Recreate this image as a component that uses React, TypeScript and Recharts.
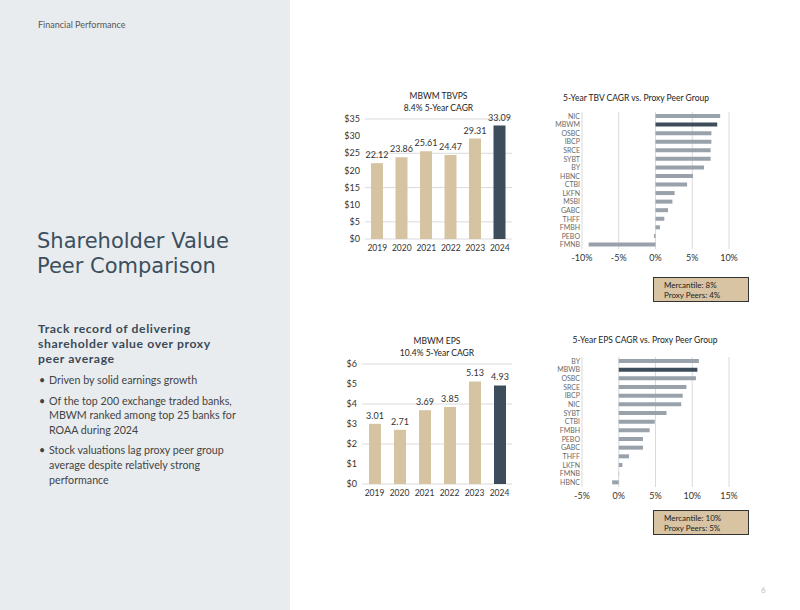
import React from "react";
import {
  BarChart,
  Bar,
  XAxis,
  YAxis,
  CartesianGrid,
  Cell,
  LabelList,
} from "recharts";

const YEARS = ["2019", "2020", "2021", "2022", "2023", "2024"];
const TBVPS = [22.12, 23.86, 25.61, 24.47, 29.31, 33.09];
const EPS = [3.01, 2.71, 3.69, 3.85, 5.13, 4.93];
const TBVPS_TICKS = [0, 5, 10, 15, 20, 25, 30, 35];
const EPS_TICKS = [0, 1, 2, 3, 4, 5, 6];

const TBV_PEERS = ["NIC", "MBWM", "OSBC", "IBCP", "SRCE", "SYBT", "BY", "HBNC", "CTBI", "LKFN", "MSBI", "GABC", "THFF", "FMBH", "PEBO", "FMNB"];
const TBV_CAGR = [8.8, 8.4, 7.6, 7.6, 7.5, 7.5, 6.6, 5.1, 4.3, 2.6, 2.3, 1.7, 1.2, 0.6, -0.2, -9.1];
const TBV_TICKS = [-10, -5, 0, 5, 10];

const EPS_PEERS = ["BY", "MBWB", "OSBC", "SRCE", "IBCP", "NIC", "SYBT", "CTBI", "FMBH", "PEBO", "GABC", "THFF", "LKFN", "FMNB", "HBNC"];
const EPS_CAGR = [10.9, 10.7, 10.5, 9.2, 8.7, 8.5, 6.5, 4.9, 4.2, 3.3, 3.3, 1.4, 0.5, 0.05, -0.9];
const EPS_TICKS_PCT = [-5, 0, 5, 10, 15];

const BULLETS = [
  "Driven by solid earnings growth",
  "Of the top 200 exchange traded banks, MBWM ranked among top 25 banks for ROAA during 2024",
  "Stock valuations lag proxy peer group average despite relatively strong performance",
];

const HIGHLIGHT = ["MBWM", "MBWB"];

const TAN = "#D6C3A2";
const SLATE = "#3E4D5B";
const GREY = "#99A2AA";
const GRID = "#DADADA";
const FONT = "Lato, 'Open Sans', sans-serif";

function AnnualChart({ title, sub, values, ticks, left, top, width, yWidth }: any) {
  const data = YEARS.map((year, i) => ({ year, value: values[i] }));
  const max = ticks[ticks.length - 1];
  return (
    <div style={{ position: "absolute", left, top }}>
      <div style={{ position: "absolute", left: 0, top: -22, width, textAlign: "center", paddingLeft: yWidth - 8, boxSizing: "border-box", fontSize: 8.5, lineHeight: "12px", color: "#222" }}>
        <div>{title}</div>
        <div>{sub}</div>
      </div>
      <BarChart width={width} height={150} data={data} margin={{ top: 7, right: 8, bottom: 3, left: 0 }}>
        <CartesianGrid vertical={false} stroke={GRID} />
        <XAxis dataKey="year" interval={0} axisLine={false} tickLine={false} tickSize={4} tick={{ fontSize: 8.5, fill: "#333", fontFamily: FONT }} height={20} />
        <YAxis domain={[0, max]} ticks={ticks} width={yWidth} axisLine={false} tickLine={false} tickSize={3} tickFormatter={(v: number) => `$${v}`} tick={{ fontSize: 9, fill: "#333", fontFamily: FONT }} />
        <Bar dataKey="value" barSize={12} isAnimationActive={false}>
          {data.map((d, i) => (
            <Cell key={d.year} fill={i === data.length - 1 ? SLATE : TAN} />
          ))}
          <LabelList dataKey="value" position="top" offset={5} formatter={(v: any) => Number(v).toFixed(2)} style={{ fontSize: 9, fill: "#333", fontFamily: FONT }} />
        </Bar>
      </BarChart>
    </div>
  );
}

function PeerChart({ title, names, values, ticks, left, top, height, titleX, titleTop }: any) {
  const data = names.map((name: string, i: number) => ({ name, value: values[i] }));
  return (
    <div style={{ position: "absolute", left, top }}>
      <div style={{ position: "absolute", left: titleX - 150, top: titleTop, width: 300, textAlign: "center", fontSize: 8.5, color: "#222" }}>{title}</div>
      <BarChart layout="vertical" width={229} height={height} data={data} margin={{ top: 7, right: 20, bottom: 1, left: 0 }}>
        <CartesianGrid horizontal={false} stroke={GRID} />
        <XAxis type="number" domain={[ticks[0], ticks[ticks.length - 1]]} ticks={ticks} axisLine={false} tickLine={false} tickSize={4} tickFormatter={(v: number) => `${v}%`} tick={{ fontSize: 9, fill: "#333", fontFamily: FONT }} height={20} />
        <YAxis type="category" dataKey="name" width={62} interval={0} axisLine={false} tickLine={false} tickSize={0} tickMargin={2} tick={{ fontSize: 7, fill: "#6a6a6a", fontFamily: FONT }} />
        <Bar dataKey="value" barSize={4} isAnimationActive={false}>
          {data.map((d: any) => (
            <Cell key={d.name} fill={HIGHLIGHT.includes(d.name) ? SLATE : GREY} />
          ))}
        </Bar>
      </BarChart>
    </div>
  );
}

function Callout({ left, top, lines }: any) {
  return (
    <div style={{ position: "absolute", left, top, width: 96, height: 25, boxSizing: "border-box", background: "#D8C4A2", border: "1.5px solid #333", padding: "2px 0 0 10px", fontSize: 8, lineHeight: "10px", color: "#222", fontFamily: FONT }}>
      {lines.map((l: string) => (
        <div key={l}>{l}</div>
      ))}
    </div>
  );
}

export default function App() {
  return (
    <div style={{ position: "absolute", left: 0, top: 0, width: 800, height: 610, background: "#fff", fontFamily: FONT, overflow: "hidden" }}>
      <div style={{ position: "absolute", left: 0, top: 0, width: 290, height: 610, background: "#E9ECEF" }} />
      <div style={{ position: "absolute", left: 38, top: 19, fontSize: 9, color: "#555" }}>Financial Performance</div>
      <div style={{ position: "absolute", left: 37, top: 229, fontSize: 21, lineHeight: "24.5px", color: "#3C4F5E", fontFamily: "'DejaVu Sans', sans-serif" }}>
        <div>Shareholder Value</div>
        <div>Peer Comparison</div>
      </div>
      <div style={{ position: "absolute", left: 38, top: 321, width: 250, fontSize: 12.2, lineHeight: "15px", fontWeight: 700, letterSpacing: 0.6, color: "#3A4A57", fontFamily: FONT }}>
        <div>Track record of delivering</div>
        <div>shareholder value over proxy</div>
        <div>peer average</div>
      </div>
      <div style={{ position: "absolute", left: 38, top: 373, width: 240, fontSize: 10.7, lineHeight: "14.6px", color: "#444" }}>
        {BULLETS.map((t) => (
          <div key={t} style={{ position: "relative", paddingLeft: 11, marginBottom: 6, width: 195 }}>
            <span style={{ position: "absolute", left: 1, top: 0 }}>•</span>
            {t}
          </div>
        ))}
      </div>

      <AnnualChart title="MBWM TBVPS" sub="8.4% 5-Year CAGR" values={TBVPS} ticks={TBVPS_TICKS} left={330} top={112} width={190} yWidth={35} />
      <AnnualChart title="MBWM EPS" sub="10.4% 5-Year CAGR" values={EPS} ticks={EPS_TICKS} left={325} top={357} width={195} yWidth={37} />

      <PeerChart title="5-Year TBV CAGR vs. Proxy Peer Group" names={TBV_PEERS} values={TBV_CAGR} ticks={TBV_TICKS} left={520} top={105} height={165} titleX={116} titleTop={-12} />
      <PeerChart title="5-Year EPS CAGR vs. Proxy Peer Group" names={EPS_PEERS} values={EPS_CAGR} ticks={EPS_TICKS_PCT} left={520} top={350} height={158} titleX={125} titleTop={-15} />

      <Callout left={653} top={277} lines={["Mercantile: 8%", "Proxy Peers: 4%"]} />
      <Callout left={653} top={510} lines={["Mercantile: 10%", "Proxy Peers: 5%"]} />

      <div style={{ position: "absolute", left: 761, top: 585, fontSize: 8, color: "#bbb" }}>6</div>
    </div>
  );
}
